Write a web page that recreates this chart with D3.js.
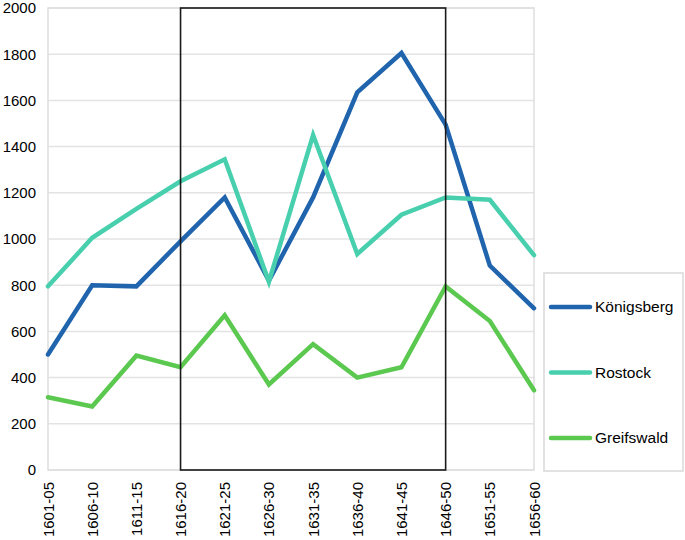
<!DOCTYPE html>
<html><head><meta charset="utf-8">
<script src="https://cdn.jsdelivr.net/npm/d3@7"></script>
<style>html,body{margin:0;padding:0;background:#fff;}svg{display:block;}</style>
</head><body>
<svg id="c" width="685" height="540"></svg>
<script>
const categories = ["1601-05","1606-10","1611-15","1616-20","1621-25","1626-30","1631-35","1636-40","1641-45","1646-50","1651-55","1656-60"];
const konigsberg = [500,800,795,990,1180,820,1180,1635,1805,1495,885,700];
const rostock    = [795,1005,1130,1250,1345,815,1450,935,1105,1180,1170,930];
const greifswald = [315,275,495,445,670,370,545,400,445,795,645,345];
const seriesNames = ["Königsberg","Rostock","Greifswald"];
const seriesColors = ["#1f64ad","#48cfae","#5bc84f"];
const yTicks = [0,200,400,600,800,1000,1200,1400,1600,1800,2000];
const highlight = ["1616-20","1646-50"];

const series = [konigsberg, rostock, greifswald];
const svg = d3.select("#c");
const L = 48, R = 534, T = 8, B = 470;
const x = d3.scalePoint().domain(categories).range([L, R]);
const y = d3.scaleLinear().domain([0, 2000]).range([B, T]);
const font = "Liberation Sans, Arial, sans-serif";

// gridlines
svg.append("g").selectAll("line").data(yTicks).join("line")
  .attr("x1", L).attr("x2", R).attr("y1", d => y(d)).attr("y2", d => y(d))
  .attr("stroke", "#e3e3e3").attr("stroke-width", 1.5);
// frame
svg.append("rect").attr("x", L).attr("y", T).attr("width", R - L).attr("height", B - T)
  .attr("fill", "none").attr("stroke", "#dedede").attr("stroke-width", 1.5);

// y axis labels
const yAxis = d3.axisLeft(y).tickValues(yTicks).tickFormat(d3.format("d")).tickSize(0).tickPadding(12);
const gy = svg.append("g").attr("transform", `translate(${L},0)`).call(yAxis);
gy.select(".domain").remove();
gy.selectAll("text").attr("font-family", font).attr("font-size", 15).attr("fill", "#000");

// x axis labels
const xAxis = d3.axisBottom(x).tickSize(0).tickPadding(0);
const gx = svg.append("g").attr("transform", `translate(0,${B})`).call(xAxis);
gx.select(".domain").remove();
gx.selectAll("text").attr("font-family", font).attr("font-size", 15).attr("fill", "#000")
  .attr("text-anchor", "end").attr("dy", null)
  .attr("transform", "translate(5,12) rotate(-90)");

// lines
const line = d3.line().x((d, i) => x(categories[i])).y(d => y(d));
series.forEach((s, k) => {
  svg.append("path").datum(s).attr("d", line).attr("fill", "none")
    .attr("stroke", seriesColors[k]).attr("stroke-width", 4.5)
    .attr("stroke-linejoin", "miter").attr("stroke-linecap", "round");
});

// highlight box
svg.append("rect").attr("x", x(highlight[0])).attr("y", y(2000))
  .attr("width", x(highlight[1]) - x(highlight[0])).attr("height", y(0) - y(2000))
  .attr("fill", "none").attr("stroke", "#1a1a1a").attr("stroke-width", 1.6);

// legend
svg.append("rect").attr("x", 544).attr("y", 273).attr("width", 139).attr("height", 198)
  .attr("fill", "#fff").attr("stroke", "#d9d9d9").attr("stroke-width", 1.5);
const lg = svg.append("g").selectAll("g").data(seriesNames).join("g")
  .attr("transform", (d, i) => `translate(550,${307 + i * 65.5})`);
lg.append("line").attr("x1", 1).attr("x2", 40).attr("y1", 0).attr("y2", 0)
  .attr("stroke", (d, i) => seriesColors[i]).attr("stroke-width", 4.5).attr("stroke-linecap", "round");
lg.append("text").attr("x", 45).attr("y", 0).attr("dy", "0.35em")
  .attr("font-family", font).attr("font-size", 15.5).attr("fill", "#000").text(d => d);
</script>
</body></html>
